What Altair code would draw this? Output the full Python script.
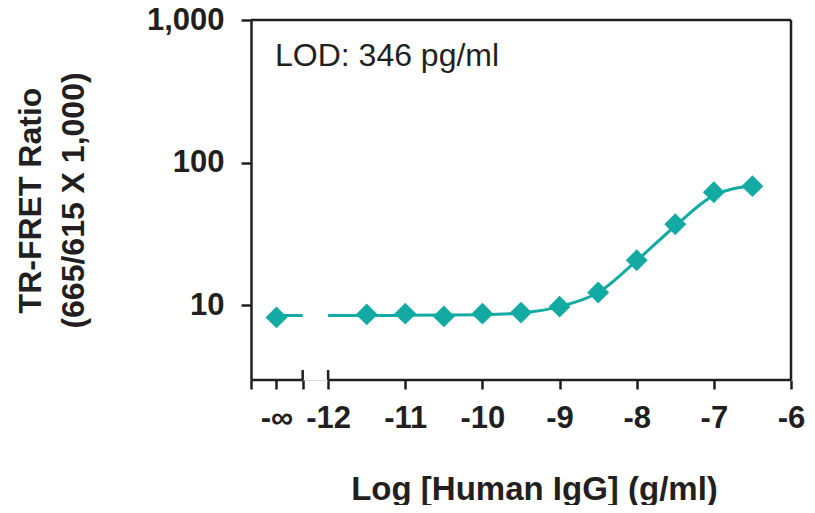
import altair as alt
import pandas as pd

# ---- data ----
conc_log = [-12.67, -11.5, -11.0, -10.5, -10.0, -9.5, -9.0, -8.5, -8.0, -7.5, -7.0, -6.5]  # -12.67 = "-inf" (blank)
ratio = [8.24, 8.65, 8.75, 8.37, 8.75, 8.9, 9.8, 12.3, 20.7, 37.0, 62.0, 68.5]

fit_x = [-12.0, -11.5, -11.0, -10.5, -10.0, -9.5, -9.0, -8.5, -8.0, -7.5, -7.0, -6.5]
fit_y = [8.5, 8.5, 8.52, 8.55, 8.6, 8.85, 9.8, 12.3, 20.6, 36.0, 59.0, 69.0]

blank_x = [-12.67, -12.33]
blank_y = [8.5, 8.5]

x_tick_values = [-13, -12.67, -12.33, -12, -11, -10, -9, -8, -7, -6]
y_tick_values = [10, 100, 1000]
lod_text = "LOD: 346 pg/ml"

TEAL = "#14aaa4"
INK = "#231f20"
FONT = "Liberation Sans"

# axis structure (broken x axis)
X_MIN, X_MAX = -13, -6
BREAK_L, BREAK_R = -12.33, -12
Y_MIN, Y_MAX = 3, 1000
W, H = 540, 360

pts = pd.DataFrame({"x": conc_log, "y": ratio})
fit = pd.DataFrame({"x": fit_x, "y": fit_y})
blank = pd.DataFrame({"x": blank_x, "y": blank_y})

x_scale = alt.Scale(domain=[X_MIN, X_MAX], nice=False, zero=False)
y_scale = alt.Scale(type="log", domain=[Y_MIN, Y_MAX], nice=False)

label_expr = (
    "(datum.value < -12.5 && datum.value > -12.8) ? '-\u221e' : "
    "((datum.value >= -12 && datum.value == round(datum.value)) ? toString(datum.value) : '')"
)

x_axis = alt.Axis(
    values=x_tick_values,
    labelExpr=label_expr,
    domain=False,
    grid=False,
    ticks=True,
    tickSize=9,
    tickWidth=2.5,
    tickColor=INK,
    labelFont=FONT,
    labelFontSize=31,
    labelFontWeight="bold",
    labelColor=INK,
    labelPadding=14,
    labelAngle=0,
    labelFlush=False,
    labelOverlap=False,
    title="Log [Human IgG] (g/ml)",
    titleFont=FONT,
    titleFontSize=33,
    titleFontWeight="bold",
    titleColor=INK,
    titleX=283,
    titleY=119,
    titleAlign="center",
    titleBaseline="alphabetic",
)

y_axis = alt.Axis(
    values=y_tick_values,
    format=",",
    domain=True,
    domainWidth=2.5,
    domainColor=INK,
    grid=False,
    tickSize=10,
    tickWidth=2.5,
    tickColor=INK,
    labelFont=FONT,
    labelFontSize=31,
    labelFontWeight="bold",
    labelColor=INK,
    labelPadding=17,
    title=["TR-FRET Ratio", "(665/615 X 1,000)"],
    titleFont=FONT,
    titleFontSize=32,
    titleFontWeight="bold",
    titleColor=INK,
    titleAngle=-90,
    titleAlign="center",
    titleBaseline="top",
    titleLineHeight=43,
    titleX=-236,
    titleY=180,
)

base_x = alt.X("x:Q", scale=x_scale, axis=x_axis)
base_y = alt.Y("y:Q", scale=y_scale, axis=y_axis)

fit_line = alt.Chart(fit).mark_line(
    color=TEAL, strokeWidth=3, interpolate="monotone"
).encode(x=base_x, y=base_y)

blank_line = alt.Chart(blank).mark_line(color=TEAL, strokeWidth=3).encode(
    x=alt.X("x:Q", scale=x_scale), y=alt.Y("y:Q", scale=y_scale)
)

points = alt.Chart(pts).mark_point(
    shape="diamond", filled=True, size=480, color=TEAL, opacity=1
).encode(x=alt.X("x:Q", scale=x_scale), y=alt.Y("y:Q", scale=y_scale))

frame = pd.DataFrame({
    "x": [X_MIN, BREAK_R, X_MIN, X_MAX],
    "x2": [BREAK_L, X_MAX, X_MAX, X_MAX],
    "kind": ["bottom", "bottom", "top", "right"],
})

stroke = dict(color=INK, strokeWidth=2.5)

bottom_rules = alt.Chart(frame).transform_filter("datum.kind == 'bottom'").mark_rule(**stroke).encode(
    x=alt.X("x:Q", scale=x_scale), x2="x2:Q", y=alt.value(H)
)
top_rule = alt.Chart(frame).transform_filter("datum.kind == 'top'").mark_rule(**stroke).encode(
    x=alt.X("x:Q", scale=x_scale), x2="x2:Q", y=alt.value(0)
)
right_rule = alt.Chart(frame).transform_filter("datum.kind == 'right'").mark_rule(**stroke).encode(
    x=alt.X("x:Q", scale=x_scale), y=alt.value(0), y2=alt.value(H)
)

caps = pd.DataFrame({"x": [BREAK_L, BREAK_R]})
cap_rules = alt.Chart(caps).mark_rule(**stroke).encode(
    x=alt.X("x:Q", scale=x_scale), y=alt.value(H - 10), y2=alt.value(H)
)

lod = alt.Chart(pd.DataFrame({"t": [lod_text]})).mark_text(
    font=FONT, fontSize=32, color=INK, align="left", baseline="middle"
).encode(text="t:N", x=alt.value(24), y=alt.value(36))

chart = alt.layer(
    fit_line, blank_line, points, bottom_rules, top_rule, right_rule, cap_rules, lod
).properties(
    width=W,
    height=H,
    autosize=alt.AutoSizeParams(type="none"),
    padding={"left": 243, "top": 12, "right": 16, "bottom": 125},
).configure_view(stroke=None).configure(background="white")

chart.save("out.html", embed_options={"renderer": "svg", "actions": False})
